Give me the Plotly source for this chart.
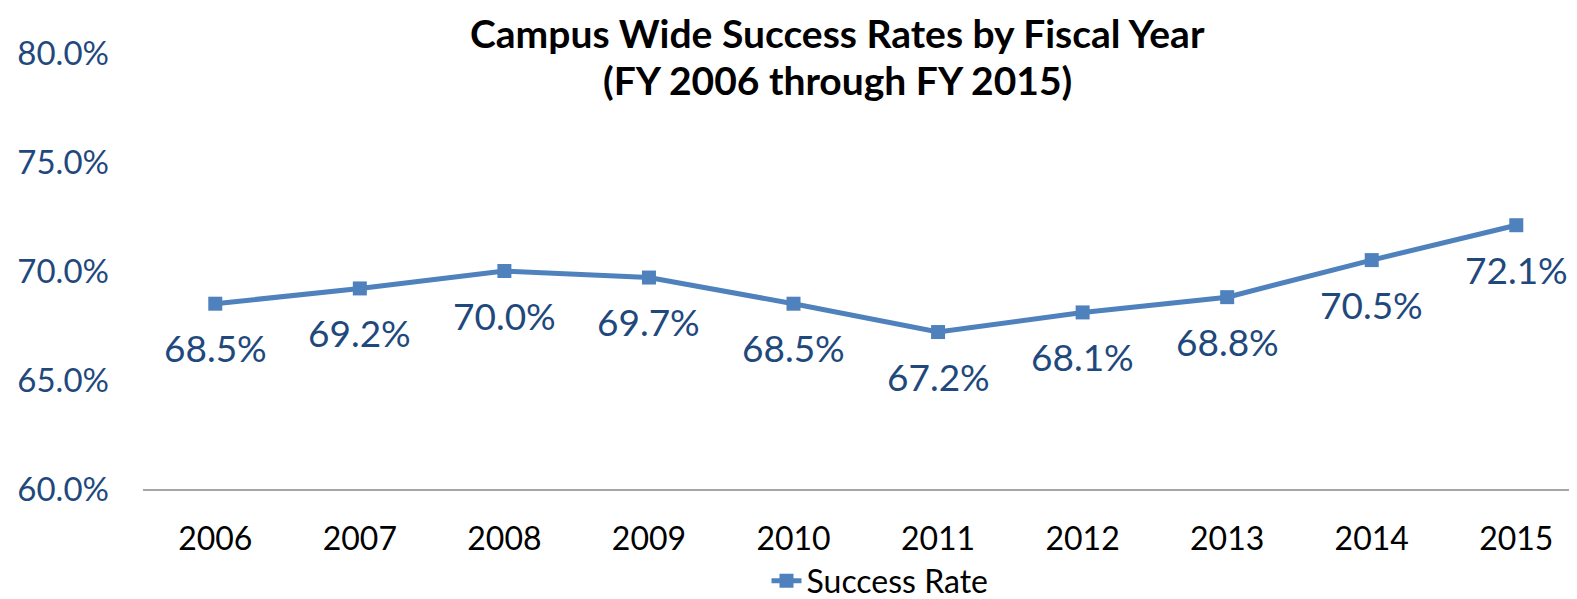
import plotly.graph_objects as go

years = ["2006", "2007", "2008", "2009", "2010", "2011", "2012", "2013", "2014", "2015"]
success_rate = [68.5, 69.2, 70.0, 69.7, 68.5, 67.2, 68.1, 68.8, 70.5, 72.1]
y_ticks = [60, 65, 70, 75, 80]
y_tick_text = ["60.0%", "65.0%", "70.0%", "75.0%", "80.0%"]
title_lines = ["Campus Wide Success Rates by Fiscal Year", "(FY 2006 through FY 2015)"]

LINE = "#4F81BD"
TXT = "#1F497D"
FONT = "Lato"

# The page body has an 8px margin, so the figure is sized to fill the rest of the window.
W, H = 1569, 591

fig = go.Figure()
fig.add_trace(go.Scatter(
    x=years, y=success_rate, mode="lines+markers", name="Success Rate",
    line=dict(color=LINE, width=5),
    marker=dict(symbol="square", size=14, color=LINE),
    hovertemplate="%{x}: %{y:.1f}%<extra></extra>",
))

annotations = [
    dict(x=i, y=v, xref="x", yref="y", text=f"{v:.1f}%", showarrow=False, yshift=-44,
         font=dict(family=FONT, size=37, color=TXT), xanchor="center", yanchor="middle")
    for i, v in enumerate(success_rate)
]
for line_text, ypos in zip(title_lines, [1.046, 0.937]):
    annotations.append(dict(
        x=0.4845, y=ypos, xref="paper", yref="paper", xanchor="center", yanchor="middle",
        text="<b>" + line_text + "</b>", showarrow=False, borderpad=0,
        font=dict(family=FONT, size=39, color="black"),
    ))

fig.update_layout(
    width=W, height=H,
    margin=dict(l=135, r=0, t=45, b=110, autoexpand=False),
    paper_bgcolor="white", plot_bgcolor="white",
    font=dict(family=FONT),
    xaxis=dict(
        type="category", range=[-0.5, 9.42], automargin=False,
        showgrid=False, showline=True, linecolor="#A6A6A6", linewidth=2,
        ticks="", tickfont=dict(family=FONT, size=32, color="black"),
        ticklabelstandoff=21,
    ),
    yaxis=dict(
        range=[60, 80], tickvals=y_ticks, ticktext=y_tick_text, automargin=False,
        showgrid=False, zeroline=False, showline=False, ticks="",
        tickfont=dict(family=FONT, size=33, color=TXT),
        ticklabelstandoff=33,
    ),
    showlegend=True,
    legend=dict(
        orientation="h", xref="container", yref="container",
        x=872 / W, xanchor="center", y=18 / H, yanchor="middle",
        font=dict(family=FONT, size=32, color="black"),
        itemwidth=30, bgcolor="rgba(0,0,0,0)",
    ),
    annotations=annotations,
)

fig.write_html("out.html")
